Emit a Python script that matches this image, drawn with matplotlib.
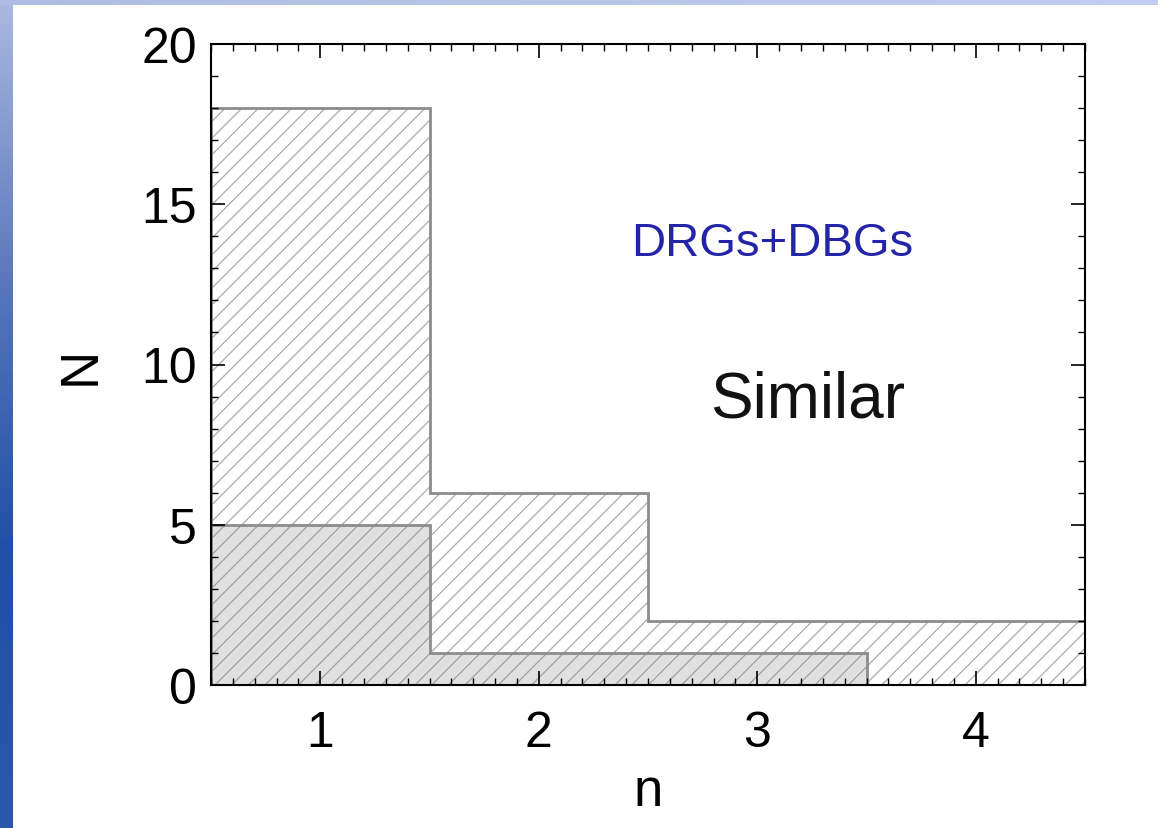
import numpy as np
import matplotlib
matplotlib.use("Agg")
import matplotlib.pyplot as plt
from matplotlib.ticker import MultipleLocator
from matplotlib.colors import LinearSegmentedColormap

plt.rcParams['font.family'] = ['Liberation Sans', 'DejaVu Sans']
plt.rcParams['hatch.linewidth'] = 0.9

# Data: Sersic index n histogram
n_centers = [1, 2, 3, 4]
all_counts = [18, 6, 2, 2]      # DRGs+DBGs, hatched
sub_counts = [5, 1, 1, 0]       # subset, grey filled

label_top = "DRGs+DBGs"
label_mid = "Similar"

edges = np.append(np.array(n_centers) - 0.5, n_centers[-1] + 0.5)

fig = plt.figure(figsize=(11.58, 8.29), dpi=100)

# slide-like blue strips on left and top edges
strip_cmap = LinearSegmentedColormap.from_list("strip", ["#a9b8e0", "#5a78bb", "#1f4fa6", "#2a58aa"])
ax_left = fig.add_axes([0, 0, 13 / 1158, 1])
ax_left.imshow(np.linspace(0, 1, 100).reshape(-1, 1), cmap=strip_cmap, aspect='auto')
ax_left.axis('off')
ax_top = fig.add_axes([0, 1 - 6 / 829, 1, 6 / 829])
ax_top.imshow(np.linspace(0, 1, 100).reshape(1, -1),
              cmap=LinearSegmentedColormap.from_list("top", ["#aebde3", "#c4cdee"]), aspect='auto')
ax_top.axis('off')

ax = fig.add_axes([211 / 1158, (829 - 686) / 829, (1085 - 211) / 1158, (686 - 45) / 829])

# hatched full sample
ax.stairs(all_counts, edges, fill=True, facecolor='white', edgecolor='#ababab', hatch='//', lw=0)
# grey filled subset
ax.stairs(sub_counts, edges, fill=True, facecolor='#e0e0e0', edgecolor='#a0a0a0', hatch='//', lw=0)
# outlines
ax.stairs(all_counts, edges, color='#8c8c8c', lw=2, baseline=0)
ax.stairs(sub_counts, edges, color='#8c8c8c', lw=2, baseline=0)

ax.set_xlim(edges[0], edges[-1])
ax.set_ylim(0, 20)
ax.set_xticks(n_centers)
ax.set_yticks([0, 5, 10, 15, 20])
ax.xaxis.set_minor_locator(MultipleLocator(0.1))
ax.yaxis.set_minor_locator(MultipleLocator(1))
ax.tick_params(which='both', direction='in', top=True, right=True, labelsize=36)
ax.tick_params(which='major', length=10, width=1.2)
ax.tick_params(which='minor', length=5, width=1.0)
ax.tick_params(axis='x', pad=18)
ax.tick_params(axis='y', pad=10)
for s in ax.spines.values():
    s.set_linewidth(1.5)

ax.set_xlabel("n", fontsize=38)
ax.set_ylabel("N", fontsize=38)
ax.xaxis.set_label_coords(0.5, -0.126)
ax.yaxis.set_label_coords(-0.12, 0.5)

ax.text(3.07, 13.8, label_top, color='#2424a8', fontsize=34, ha='center', va='center')
ax.text(3.23, 8.92, label_mid, color='#111111', fontsize=46, ha='center', va='center')

fig.savefig("out.png", dpi=100)
